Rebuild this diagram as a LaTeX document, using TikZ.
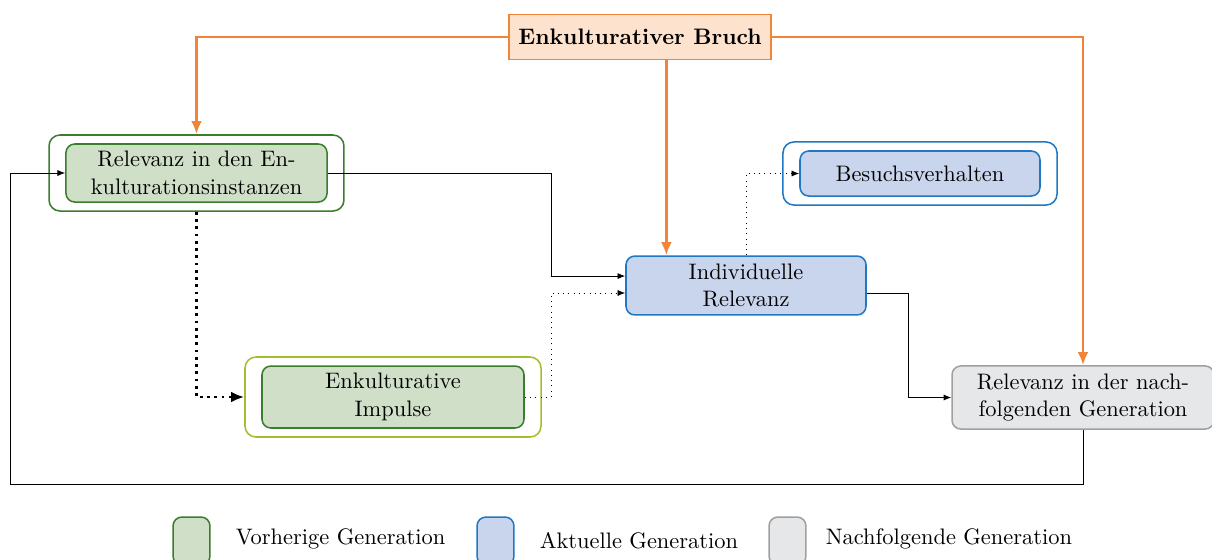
\documentclass[tikz,border=0pt]{standalone}
\usepackage{tikz}
\usetikzlibrary{arrows.meta}

\definecolor{bruchdraw}{RGB}{240,133,58}
\definecolor{bruchfill}{RGB}{253,226,206}
\definecolor{gendraw}{RGB}{58,125,44}
\definecolor{genfill}{RGB}{207,223,200}
\definecolor{impdraw}{RGB}{164,190,47}
\definecolor{aktdraw}{RGB}{31,120,193}
\definecolor{aktfill}{RGB}{201,213,236}
\definecolor{nachdraw}{RGB}{160,160,160}
\definecolor{nachfill}{RGB}{230,231,232}

\tikzset{
  box/.style={rounded corners=4pt, line width=0.7pt, align=center, inner sep=0pt},
  vorbox/.style={box, draw=gendraw, fill=genfill},
  aktbox/.style={box, draw=aktdraw, fill=aktfill},
  nachbox/.style={box, draw=nachdraw, fill=nachfill},
  frame/.style={rounded corners=5pt, line width=0.7pt, inner sep=0pt},
  bruchline/.style={draw=bruchdraw, line width=1.3pt, -{Latex[length=6pt,width=5pt]}},
  flow/.style={line width=0.4pt, -{Latex[length=3.5pt,width=2.8pt]}},
  weak/.style={flow, dotted},
}

\begin{document}
\begin{tikzpicture}[x=0.455pt,y=0.455pt,yscale=-1,font=\fontsize{10.2}{12.6}\selectfont]
\useasboundingbox (0,0) rectangle (1212,559);

%Shape: Bruch
\node[draw=bruchdraw, fill=bruchfill, line width=0.7pt, minimum width=119.2pt, minimum height=20.5pt] (bruch) at (640,37) {\textbf{Enkulturativer Bruch}};

%Shape: vorherige Generation
\node[frame, draw=gendraw, minimum width=134.2pt, minimum height=34.6pt] (relout) at (196.5,173) {};
\node[vorbox, minimum width=118.8pt, minimum height=26.4pt] (relin) at (196.5,173) {Relevanz in den En-\\kulturationsinstanzen};

\node[frame, draw=impdraw, minimum width=134.7pt, minimum height=36.4pt] (impout) at (393,397) {};
\node[vorbox, minimum width=119.2pt, minimum height=28.2pt] (impin) at (393,397) {Enkulturative\\Impulse};

%Shape: aktuelle Generation
\node[aktbox, minimum width=109.2pt, minimum height=26.8pt] (indiv) at (746,285.5) {Individuelle\\Relevanz};

\node[frame, draw=aktdraw, minimum width=124.7pt, minimum height=28.7pt] (besout) at (920,173.5) {};
\node[aktbox, minimum width=109.2pt, minimum height=20.5pt] (besin) at (920,173.5) {Besuchsverhalten};

%Shape: nachfolgende Generation
\node[nachbox, minimum width=119.2pt, minimum height=28.7pt] (nach) at (1083,397.5) {Relevanz in der nach-\\folgenden Generation};

\coordinate (jlinks) at (551,0);
\coordinate (jrechts) at (908,0);
\coordinate (schleife) at (10,484);

%Straight Lines
\draw[bruchline] (bruch.west) -| (relout.north);
\draw[bruchline] ([xshift=12pt]bruch.south) -- ([xshift=12pt]bruch.south |- indiv.north);
\draw[bruchline] (bruch.east) -| (nach.north);

\draw[flow] (relin.east) -- (relin.east -| jlinks) |- ([yshift=-4.3pt]indiv.west);
\draw[weak] (impin.east) -- (impin.east -| jlinks) |- ([yshift=3.4pt]indiv.west);
\draw[line width=1.3pt, dotted, -{Latex[length=6pt,width=5pt]}] (relout.south) |- (impout.west);
\draw[weak] (indiv.north) |- (besin.west);
\draw[flow] ([yshift=3.4pt]indiv.east) -- ([yshift=3.4pt]indiv.east -| jrechts) |- (nach.west);
\draw[flow] (nach.south) |- (schleife) |- (relin.west);

%Legend
\node[vorbox, minimum width=16.8pt, minimum height=21.8pt] (legvor) at (191.5,541) {};
\node[anchor=west] (txtvor) at (228,539) {Vorherige Generation};
\node[aktbox, minimum width=16.8pt, minimum height=21.8pt] (legakt) at (495.5,541) {};
\node[anchor=west] (txtakt) at (532,541) {Aktuelle Generation};
\node[nachbox, minimum width=16.8pt, minimum height=21.8pt] (legnach) at (787.5,541) {};
\node[anchor=west] (txtnach) at (818,539) {Nachfolgende Generation};

\end{tikzpicture}
\end{document}
